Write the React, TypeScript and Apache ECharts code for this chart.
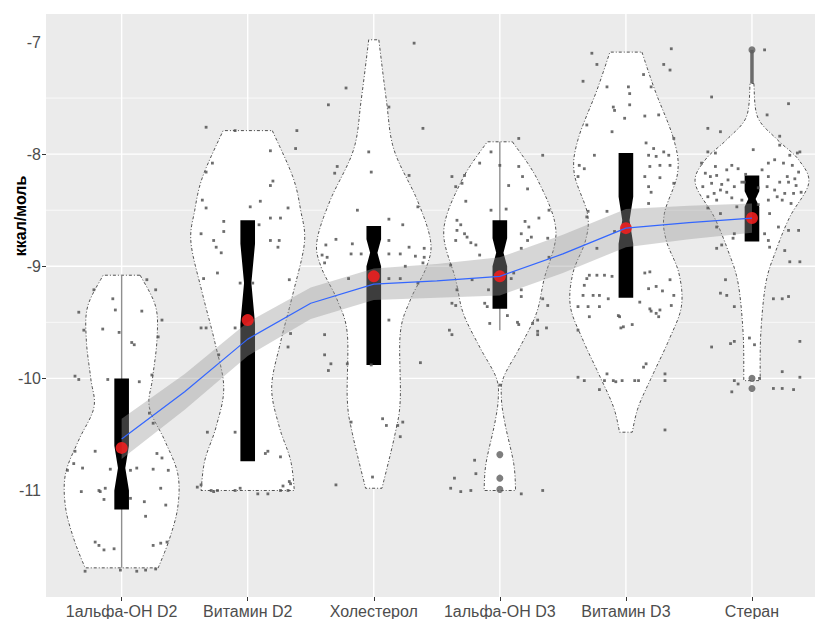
import React, { useEffect, useRef } from 'react';
import * as echarts from 'echarts';

const categories = ['1альфа-OH D2', 'Витамин D2', 'Холестерол', '1альфа-OH D3', 'Витамин D3', 'Стеран'];

const yLabelValues = [-11, -10, -9, -8, -7];
const yTickValues = [-10, -9, -8];
const yMajorGrid = [-10, -9, -8];
const yMinorGrid = [-9.5, -8.5, -7.5];

// violin outlines: [value, half width in category units]
const violin1 = [[-9.08, 0.147], [-9.36, 0.27], [-9.66, 0.28], [-10.0, 0.245], [-10.26, 0.22], [-10.55, 0.34], [-10.85, 0.445], [-11.15, 0.445], [-11.44, 0.377], [-11.69, 0.29]];
const violin2 = [[-7.79, 0.195], [-8.2, 0.357], [-8.5, 0.42], [-8.79, 0.45], [-9.24, 0.36], [-9.68, 0.26], [-10.08, 0.19], [-10.43, 0.25], [-10.73, 0.34], [-11.0, 0.37]];
const violin3 = [[-6.98, 0.04], [-7.52, 0.1], [-7.96, 0.16], [-8.41, 0.345], [-8.77, 0.45], [-9.0, 0.42], [-9.3, 0.29], [-9.6, 0.21], [-10.19, 0.21], [-10.49, 0.17], [-10.98, 0.065]];
const violin4 = [[-7.89, 0.1], [-8.23, 0.3], [-8.68, 0.445], [-9.12, 0.35], [-9.42, 0.29], [-9.72, 0.16], [-9.99, 0.03], [-10.17, 0.012], [-10.4, 0.04], [-10.76, 0.11], [-11.0, 0.125]];
const violin5 = [[-7.09, 0.127], [-7.43, 0.23], [-7.87, 0.38], [-8.17, 0.41], [-8.53, 0.305], [-8.77, 0.32], [-9.06, 0.42], [-9.36, 0.44], [-9.66, 0.34], [-9.95, 0.22], [-10.25, 0.1], [-10.48, 0.05]];
const violin6 = [[-7.37, 0.015], [-7.67, 0.045], [-7.87, 0.2], [-8.05, 0.37], [-8.26, 0.45], [-8.56, 0.3], [-8.86, 0.19], [-9.15, 0.11], [-9.6, 0.07], [-10.02, 0.065]];
const violins = [violin1, violin2, violin3, violin4, violin5, violin6];

// notched boxes
const boxUpper = [-10.0, -8.59, -8.64, -8.59, -7.99, -8.19];
const boxLower = [-11.17, -10.74, -9.88, -9.38, -9.28, -8.78];
const boxMedian = [-10.8, -9.15, -8.88, -8.88, -8.59, -8.4];
const notchUpper = [-10.6, -8.8, -8.76, -8.75, -8.38, -8.33];
const notchLower = [-11.0, -9.51, -9.0, -9.0, -8.8, -8.47];

// visible whisker segments: [category number, from, to]
const whiskers = [[1, -9.08, -11.69], [4, -7.89, -9.57], [6, -7.07, -7.37]];

// outliers: [category number, value]
const outliers = [[4, -10.68], [4, -10.89], [4, -10.99], [6, -7.07], [6, -10.0], [6, -10.09]];

const means = [-10.62, -9.48, -9.09, -9.09, -8.66, -8.57];

const smoothX = [1, 1.5, 2, 2.5, 3, 3.5, 4, 4.5, 5, 5.5, 6];
const smoothFit = [-10.54, -10.12, -9.65, -9.33, -9.16, -9.13, -9.09, -8.89, -8.66, -8.61, -8.57];
const smoothSE = [0.18, 0.16, 0.15, 0.14, 0.14, 0.15, 0.17, 0.17, 0.17, 0.15, 0.13];

// jittered observations: [offset from category, value]
const pts1 = [[0.2, -9.12], [-0.22, -9.21], [0.27, -9.21], [-0.07, -9.29], [-0.05, -9.39], [0.16, -9.4], [-0.34, -9.41], [0.32, -9.48], [-0.15, -9.56], [-0.3, -9.57], [-0.02, -9.59], [0.29, -9.63], [0.08, -9.68], [0.1, -9.7], [-0.37, -9.98], [-0.34, -10.01], [-0.11, -10.01], [0.14, -10.03], [0.24, -9.97], [0.22, -10.31], [0.25, -10.4], [-0.37, -10.65], [-0.21, -10.65], [0.28, -10.67], [0.32, -10.71], [-0.38, -10.76], [-0.31, -10.8], [-0.09, -10.81], [0.12, -10.8], [0.25, -10.81], [0.37, -10.82], [-0.43, -10.82], [0.07, -10.82], [-0.18, -11.0], [-0.13, -10.98], [-0.32, -11.01], [-0.14, -11.08], [0.07, -11.07], [0.31, -10.98], [0.35, -11.13], [0.19, -11.23], [0.18, -11.1], [-0.17, -11.01], [-0.21, -11.46], [-0.18, -11.49], [-0.14, -11.53], [-0.06, -11.52], [0.25, -11.49], [0.31, -11.47], [0.36, -11.46], [-0.29, -11.72], [-0.01, -11.71], [0.12, -11.72], [0.19, -11.71], [0.27, -11.7]];
const pts2 = [[-0.33, -7.76], [-0.1, -7.79], [0.39, -7.79], [0.38, -7.95], [0.18, -7.97], [-0.28, -8.08], [-0.33, -8.16], [0.18, -8.28], [0.2, -8.24], [-0.36, -8.41], [0.1, -8.42], [-0.33, -8.48], [0.02, -8.47], [0.32, -8.48], [0.18, -8.57], [0.26, -8.57], [-0.19, -8.6], [0.09, -8.63], [-0.19, -8.69], [-0.37, -8.71], [0.25, -8.77], [0.18, -8.77], [-0.27, -8.77], [-0.25, -8.83], [0.24, -8.83], [-0.21, -8.88], [-0.24, -9.06], [-0.35, -9.11], [0.33, -9.12], [-0.06, -9.15], [0.04, -9.15], [-0.37, -9.55], [-0.33, -9.55], [-0.1, -9.55], [0.34, -9.6], [0.32, -9.72], [-0.23, -9.79], [-0.32, -10.48], [-0.1, -10.48], [0.16, -10.65], [0.14, -10.67], [0.26, -10.7], [-0.37, -10.95], [-0.4, -10.97], [-0.29, -11.0], [-0.24, -11.0], [-0.27, -11.01], [-0.1, -11.0], [-0.06, -10.98], [0.08, -11.03], [0.16, -11.03], [0.26, -11.0], [0.32, -11.0], [0.34, -10.94], [0.33, -10.92], [0.28, -10.96]];
const pts3 = [[0.32, -7.01], [-0.22, -7.41], [-0.36, -7.56], [0.12, -7.58], [0.39, -7.77], [-0.04, -7.98], [-0.29, -8.11], [-0.31, -8.17], [-0.02, -8.16], [0.28, -8.19], [0.35, -8.47], [-0.13, -8.5], [0.12, -8.58], [0.23, -8.63], [-0.3, -8.76], [-0.38, -8.81], [-0.17, -8.8], [0.12, -8.77], [0.28, -8.83], [0.4, -8.84], [-0.41, -8.9], [-0.37, -8.92], [-0.18, -8.89], [-0.1, -8.89], [0.12, -8.89], [0.21, -8.89], [0.33, -8.91], [0.4, -8.92], [-0.39, -8.97], [0.39, -8.97], [0.25, -9.0], [-0.2, -9.11], [0.12, -9.11], [0.35, -9.15], [0.21, -9.11], [-0.39, -9.61], [0.12, -9.48], [-0.39, -9.79], [-0.34, -9.87], [-0.36, -9.93], [-0.21, -9.87], [-0.02, -9.88], [0.37, -9.86], [-0.18, -10.39], [0.07, -10.36], [0.1, -10.42], [0.19, -10.42], [0.23, -10.39], [0.21, -10.52], [-0.3, -10.95], [-0.01, -10.88]];
const pts4 = [[0.15, -7.86], [-0.07, -7.98], [0.34, -8.01], [-0.16, -8.08], [0.15, -8.11], [0.0, -8.1], [-0.38, -8.2], [-0.28, -8.19], [-0.3, -8.26], [-0.35, -8.29], [0.18, -8.2], [0.07, -8.28], [0.22, -8.31], [-0.27, -8.42], [-0.07, -8.5], [0.05, -8.49], [0.39, -8.5], [-0.34, -8.59], [-0.31, -8.63], [0.31, -8.57], [0.2, -8.6], [0.23, -8.65], [-0.34, -8.68], [-0.28, -8.71], [-0.26, -8.74], [-0.19, -8.81], [-0.23, -8.79], [-0.35, -8.77], [0.17, -8.71], [0.25, -8.74], [0.38, -8.75], [0.22, -8.77], [-0.16, -8.9], [0.17, -8.84], [0.39, -8.92], [-0.39, -8.99], [0.11, -9.06], [-0.22, -9.12], [0.09, -9.11], [-0.34, -9.21], [-0.09, -9.21], [0.17, -9.21], [0.17, -9.27], [-0.35, -9.35], [-0.38, -9.33], [-0.12, -9.33], [-0.1, -9.36], [0.34, -9.29], [0.38, -9.35], [0.06, -9.44], [-0.08, -9.51], [0.14, -9.5], [0.15, -9.52], [0.26, -9.51], [0.3, -9.48], [-0.4, -9.57], [-0.38, -9.61], [0.3, -9.58], [0.37, -9.55], [0.3, -9.61], [0.0, -10.06], [-0.2, -10.73], [-0.36, -10.89], [-0.19, -10.85], [-0.39, -10.98], [-0.31, -11.01], [-0.23, -11.0], [0.17, -11.03], [0.34, -11.0]];
const pts5 = [[-0.27, -7.1], [0.36, -7.06], [-0.23, -7.2], [0.3, -7.2], [0.35, -7.25], [-0.34, -7.35], [-0.15, -7.4], [0.02, -7.4], [0.14, -7.29], [0.2, -7.4], [0.03, -7.46], [-0.1, -7.58], [-0.09, -7.61], [0.03, -7.56], [-0.01, -7.68], [0.15, -7.66], [0.26, -7.65], [-0.31, -7.74], [-0.11, -7.8], [0.38, -7.86], [0.16, -7.9], [0.22, -7.95], [0.3, -7.98], [-0.25, -8.01], [-0.37, -8.1], [-0.33, -8.13], [0.18, -8.01], [0.24, -8.02], [0.34, -8.01], [0.19, -8.11], [0.27, -8.1], [0.35, -8.1], [-0.38, -8.2], [0.15, -8.2], [0.27, -8.21], [0.38, -8.26], [0.18, -8.29], [0.2, -8.34], [-0.15, -8.51], [0.18, -8.44], [-0.31, -8.56], [-0.3, -8.51], [-0.09, -8.69], [-0.23, -8.84], [-0.31, -9.11], [-0.33, -9.17], [-0.29, -9.08], [-0.23, -9.08], [-0.17, -9.08], [-0.11, -9.09], [-0.26, -9.26], [-0.34, -9.26], [-0.21, -9.26], [-0.14, -9.29], [0.19, -9.05], [0.35, -9.12], [0.38, -9.26], [0.18, -9.2], [0.24, -9.18], [0.11, -9.32], [0.15, -9.06], [0.29, -9.22], [0.36, -9.35], [-0.38, -9.57], [-0.3, -9.36], [-0.29, -9.45], [-0.05, -9.45], [-0.02, -9.54], [0.05, -9.52], [0.19, -9.38], [0.24, -9.42], [0.26, -9.45], [-0.38, -9.36], [-0.21, -9.36], [-0.06, -9.44], [-0.04, -9.55], [0.2, -9.4], [0.27, -9.39], [0.16, -9.87], [-0.15, -9.96], [-0.1, -10.02], [-0.03, -10.02], [0.1, -10.02], [-0.38, -9.99], [-0.33, -10.02], [-0.21, -10.1], [0.31, -9.96], [0.31, -10.02], [0.31, -10.46], [-0.17, -10.02], [-0.08, -10.03], [0.07, -10.02], [0.14, -9.9]];
const pts6 = [[0.1, -7.07], [-0.32, -7.49], [0.29, -7.55], [0.12, -7.65], [-0.35, -7.77], [-0.25, -7.8], [0.22, -7.84], [0.01, -7.96], [0.22, -7.92], [-0.35, -7.98], [-0.29, -7.99], [0.36, -7.99], [0.3, -8.01], [0.38, -7.98], [-0.4, -8.08], [-0.37, -8.17], [-0.29, -8.11], [-0.28, -8.19], [-0.2, -8.14], [-0.16, -8.1], [-0.11, -8.13], [-0.19, -8.23], [-0.08, -8.25], [-0.14, -8.29], [-0.32, -8.26], [-0.39, -8.29], [-0.25, -8.32], [-0.2, -8.34], [-0.35, -8.38], [-0.28, -8.41], [-0.16, -8.39], [-0.08, -8.41], [0.08, -8.14], [0.13, -8.08], [0.18, -8.05], [0.25, -8.08], [0.32, -8.1], [0.37, -8.16], [0.13, -8.2], [0.22, -8.25], [0.29, -8.25], [0.35, -8.28], [0.12, -8.29], [0.18, -8.32], [0.26, -8.35], [0.33, -8.35], [0.39, -8.34], [0.13, -8.41], [0.24, -8.41], [0.31, -8.44], [0.14, -8.53], [0.21, -8.65], [0.29, -8.68], [0.37, -8.68], [0.13, -8.77], [0.26, -8.86], [0.3, -8.96], [0.38, -8.96], [0.17, -9.29], [0.24, -9.29], [0.29, -9.27], [-0.25, -8.53], [-0.35, -8.48], [-0.28, -8.65], [-0.14, -8.71], [-0.15, -8.75], [-0.24, -8.81], [-0.28, -8.84], [-0.21, -9.12], [-0.25, -9.24], [-0.14, -9.36], [-0.2, -9.26], [-0.06, -8.25], [0.1, -8.71], [0.14, -8.83], [-0.32, -9.72], [-0.17, -9.69], [-0.14, -9.67], [0.02, -9.7], [-0.02, -9.64], [0.38, -9.67], [0.24, -9.94], [0.38, -9.99], [-0.14, -10.02], [-0.11, -10.05], [-0.16, -10.12], [0.06, -10.0], [0.17, -10.09], [0.24, -10.09], [0.33, -10.1], [-0.33, -8.2], [-0.24, -8.27], [-0.05, -8.18], [0.05, -8.3], [0.28, -8.2], [0.34, -8.22], [-0.3, -8.35], [0.2, -8.38], [-0.12, -8.47], [0.05, -8.45]];
const jitter = [pts1, pts2, pts3, pts4, pts5, pts6];

const BOX_HALF = 0.058;
const NOTCH_RATIO = 0.5;

// Catmull-Rom curve through pixel points (drawing helper for the violin sides)
function curveThrough(p: number[][], steps: number): number[][] {
  const out: number[][] = [];
  const n = p.length;
  for (let i = 0; i < n - 1; i++) {
    const p0 = p[Math.max(0, i - 1)];
    const p1 = p[i];
    const p2 = p[i + 1];
    const p3 = p[Math.min(n - 1, i + 2)];
    for (let s = 0; s < steps; s++) {
      const t = s / steps;
      const t2 = t * t;
      const t3 = t2 * t;
      const f = (a: number, b: number, c: number, d: number) =>
        0.5 * (2 * b + (-a + c) * t + (2 * a - 5 * b + 4 * c - d) * t2 + (-a + 3 * b - 3 * c + d) * t3);
      out.push([f(p0[0], p1[0], p2[0], p3[0]), f(p0[1], p1[1], p2[1], p3[1])]);
    }
  }
  out.push(p[n - 1]);
  return out;
}

export default function App() {
  const ref = useRef<HTMLDivElement>(null);

  useEffect(() => {
    if (!ref.current) return;
    const chart = echarts.init(ref.current, undefined, { renderer: 'svg' });

    const jitterData: number[][] = [];
    jitter.forEach((arr, k) => arr.forEach(([dx, v]) => jitterData.push([k + 1 + dx, v])));

    const catData = categories.map((_, i) => [i + 1, means[i]]);

    const option: any = {
      animation: false,
      backgroundColor: '#ffffff',
      grid: { left: 46, right: 0, top: 14, bottom: 22, show: true, backgroundColor: '#ebebeb', borderWidth: 0 },
      xAxis: {
        type: 'value', min: 0.4, max: 6.5,
        axisLine: { show: false },
        splitLine: { show: false },
        axisTick: { show: true, customValues: categories.map((_, i) => i + 1), length: 4, lineStyle: { color: '#333333', width: 1 } },
        axisLabel: {
          customValues: categories.map((_, i) => i + 1),
          formatter: (v: number) => categories[Math.round(v) - 1] ?? '',
          color: '#4d4d4d', fontSize: 16, margin: 6, fontFamily: 'Liberation Sans, Arial, sans-serif',
        },
      },
      yAxis: {
        type: 'value', min: -11.95, max: -6.75,
        axisLine: { show: false },
        splitLine: { show: false },
        axisTick: { show: true, customValues: yTickValues, length: 4, lineStyle: { color: '#333333', width: 1 } },
        axisLabel: {
          customValues: yLabelValues,
          formatter: (v: number) => String(v),
          color: '#4d4d4d', fontSize: 16, margin: 5, fontFamily: 'Liberation Sans, Arial, sans-serif',
        },
      },
      graphic: [
        {
          type: 'text', x: 20, y: 216, rotation: Math.PI / 2,
          style: { text: 'ккал/моль', font: 'bold 16px "Liberation Sans", Arial, sans-serif', fill: '#000000', textAlign: 'center', textVerticalAlign: 'middle' },
        },
      ],
      series: [
        {
          type: 'custom', name: 'grid', silent: true, data: [[1, -9]],
          renderItem: (params: any, api: any) => {
            const cs = params.coordSys;
            const children: any[] = [];
            yMinorGrid.forEach((v) => {
              const y = api.coord([1, v])[1];
              children.push({ type: 'line', shape: { x1: cs.x, y1: y, x2: cs.x + cs.width, y2: y }, style: { stroke: '#ffffff', lineWidth: 0.7 } });
            });
            yMajorGrid.forEach((v) => {
              const y = api.coord([1, v])[1];
              children.push({ type: 'line', shape: { x1: cs.x, y1: y, x2: cs.x + cs.width, y2: y }, style: { stroke: '#ffffff', lineWidth: 1.4 } });
            });
            categories.forEach((_, k) => {
              const x = api.coord([k + 1, -9])[0];
              children.push({ type: 'line', shape: { x1: x, y1: cs.y, x2: x, y2: cs.y + cs.height }, style: { stroke: '#ffffff', lineWidth: 1.4 } });
            });
            return { type: 'group', children };
          },
        },
        {
          type: 'custom', name: 'violin', silent: true, data: catData,
          renderItem: (params: any, api: any) => {
            const i = params.dataIndex;
            const c = i + 1;
            const prof = violins[i];
            const right = curveThrough(prof.map(([v, w]) => api.coord([c + w, v])), 10);
            const left = curveThrough(prof.map(([v, w]) => api.coord([c - w, v])), 10).reverse();
            return {
              type: 'polygon',
              shape: { points: [...right, ...left] },
              style: { fill: '#ffffff', stroke: '#1a1a1a', lineWidth: 0.75, lineDash: [3, 2, 1, 2] },
            };
          },
        },
        {
          type: 'custom', name: 'whisker', silent: true, data: whiskers,
          renderItem: (params: any, api: any) => {
            const [c, a, b] = whiskers[params.dataIndex];
            const p1 = api.coord([c, a]);
            const p2 = api.coord([c, b]);
            const thick = params.dataIndex === 2;
            return {
              type: 'line',
              shape: { x1: p1[0], y1: p1[1], x2: p2[0], y2: p2[1] },
              style: { stroke: thick ? '#6b6b6b' : '#8f8f8f', lineWidth: thick ? 3.5 : 1.4 },
            };
          },
        },
        {
          type: 'scatter', name: 'points', silent: true, data: jitterData,
          symbol: 'rect', symbolSize: 2.8,
          itemStyle: { color: '#555555', opacity: 0.85 },
        },
        {
          type: 'custom', name: 'box', silent: true, data: catData,
          renderItem: (params: any, api: any) => {
            const i = params.dataIndex;
            const c = i + 1;
            const hw = BOX_HALF;
            const P = (dx: number, v: number) => api.coord([c + dx, v]);
            const points = [
              P(-hw, boxUpper[i]), P(hw, boxUpper[i]), P(hw, notchUpper[i]), P(hw * NOTCH_RATIO, boxMedian[i]),
              P(hw, notchLower[i]), P(hw, boxLower[i]), P(-hw, boxLower[i]), P(-hw, notchLower[i]),
              P(-hw * NOTCH_RATIO, boxMedian[i]), P(-hw, notchUpper[i]),
            ];
            return { type: 'polygon', shape: { points }, style: { fill: '#000000' } };
          },
        },
        {
          type: 'scatter', name: 'outliers', silent: true, data: outliers,
          symbol: 'circle', symbolSize: 7,
          itemStyle: { color: '#5e5e5e' },
        },
        {
          type: 'custom', name: 'ribbon', silent: true, data: [[1, -9]],
          renderItem: (params: any, api: any) => {
            const upper = smoothX.map((x, k) => api.coord([x, smoothFit[k] + smoothSE[k]]));
            const lower = smoothX.map((x, k) => api.coord([x, smoothFit[k] - smoothSE[k]])).reverse();
            return { type: 'polygon', shape: { points: [...upper, ...lower] }, style: { fill: '#999999', opacity: 0.4 } };
          },
        },
        {
          type: 'scatter', name: 'mean', silent: true, data: catData,
          symbol: 'circle', symbolSize: 12,
          itemStyle: { color: '#f21f1f', opacity: 0.88 },
        },
        {
          type: 'line', name: 'smooth', silent: true,
          data: smoothX.map((x, k) => [x, smoothFit[k]]),
          showSymbol: false, symbol: 'none',
          lineStyle: { color: '#3366ff', width: 1.2 },
        },
      ],
    };

    chart.setOption(option);
    return () => chart.dispose();
  }, []);

  return <div ref={ref} style={{ position: 'absolute', left: 0, top: 0, width: 815, height: 619 }} />;
}
